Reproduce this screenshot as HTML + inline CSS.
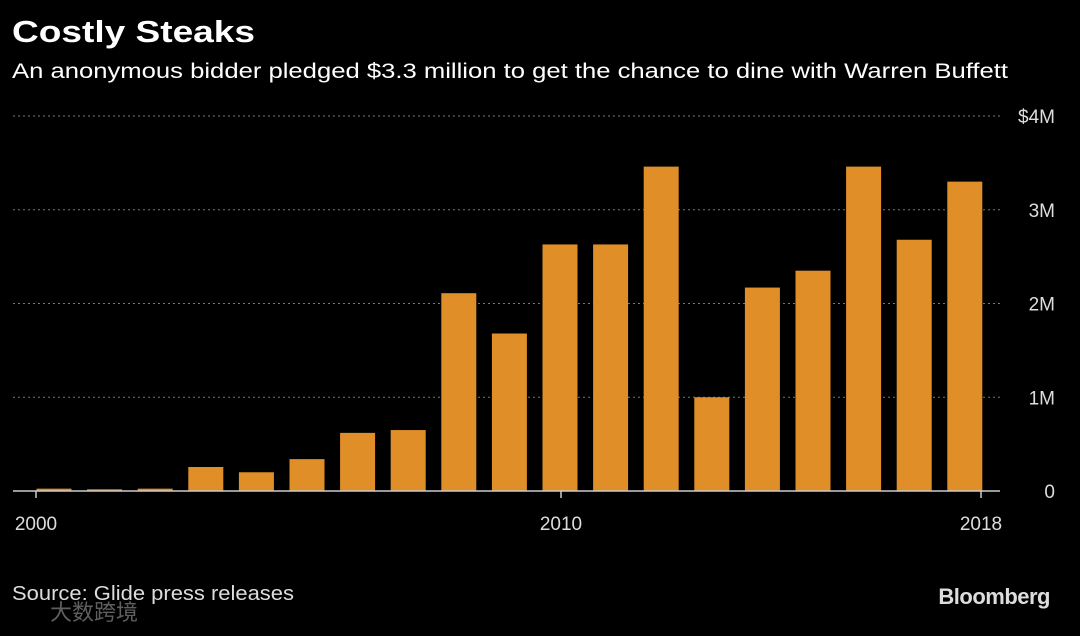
<!DOCTYPE html>
<html><head><meta charset="utf-8"><style>
body{margin:0;background:#000;width:1080px;height:631px;overflow:hidden;font-family:"Liberation Sans","Noto Sans CJK SC",sans-serif}
</style></head><body>
<svg width="1080" height="631" xmlns="http://www.w3.org/2000/svg">
<text x="12" y="42" fill="#fff" font-size="31" font-weight="bold" textLength="243" lengthAdjust="spacingAndGlyphs">Costly Steaks</text>
<text x="12" y="78" fill="#fff" font-size="21" textLength="996" lengthAdjust="spacingAndGlyphs">An anonymous bidder pledged $3.3 million to get the chance to dine with Warren Buffett</text>
<g id="grid"></g><g id="bars"></g><g id="axes"></g>
<text x="12" y="600" fill="#ddd" font-size="20" textLength="282" lengthAdjust="spacingAndGlyphs">Source: Glide press releases</text>
<text x="1050" y="604" fill="#ddd" font-size="22" font-weight="bold" text-anchor="end" letter-spacing="-0.5">Bloomberg</text>
<text x="50" y="620" fill="#888" font-size="22" opacity="0.7">大数跨境</text>
</svg>
<script>
const years=[2000,2001,2002,2003,2004,2005,2006,2007,2008,2009,2010,2011,2012,2013,2014,2015,2016,2017,2018];
const values=[0.025,0.018,0.025,0.256,0.2,0.34,0.62,0.65,2.11,1.68,2.63,2.63,3.46,1.0,2.17,2.35,3.46,2.68,3.3];
const yTicks=[0,1,2,3,4];
const yTickLabels=["0","1M","2M","3M","$4M"];
const xTicks=[2000,2010,2018];
const NS="http://www.w3.org/2000/svg";
const xBar=y=>54+(y-2000)*50.6;
const xTick=y=>36+(y-2000)*52.5;
const yS=v=>491-v*93.75;
function mk(t,a,p){const e=document.createElementNS(NS,t);for(const k in a)e.setAttribute(k,a[k]);p.appendChild(e);return e;}
const g=document.getElementById('grid'),b=document.getElementById('bars'),ax=document.getElementById('axes');
yTicks.forEach((t,i)=>{
  if(t>0){const l=mk('line',{x1:13,x2:1000,y1:yS(t),y2:yS(t),stroke:'#777','stroke-dasharray':'2,3','stroke-width':1},g);
  
  }
  const tx=mk('text',{x:1055,y:yS(t)+7,fill:'#ddd','font-size':19,'text-anchor':'end'},ax);
  tx.textContent=yTickLabels[i];
  
  
});
years.forEach((yr,i)=>{
  const r=mk('rect',{x:xBar(yr)-17.5,y:yS(values[i]),width:35,height:values[i]*93.75,fill:'#e08e28'},b);
  
  
});
const al=mk('line',{x1:13,x2:1000,y1:491,y2:491,stroke:'#ccc','stroke-width':1.5},ax);


xTicks.forEach(t=>{
  mk('line',{x1:xTick(t),x2:xTick(t),y1:491,y2:498,stroke:'#ccc','stroke-width':1.5},ax);
  const tx=mk('text',{x:xTick(t),y:530,fill:'#ddd','font-size':19,'text-anchor':'middle'},ax);
  tx.textContent=t;
  
  
});
</script>
</body></html>
